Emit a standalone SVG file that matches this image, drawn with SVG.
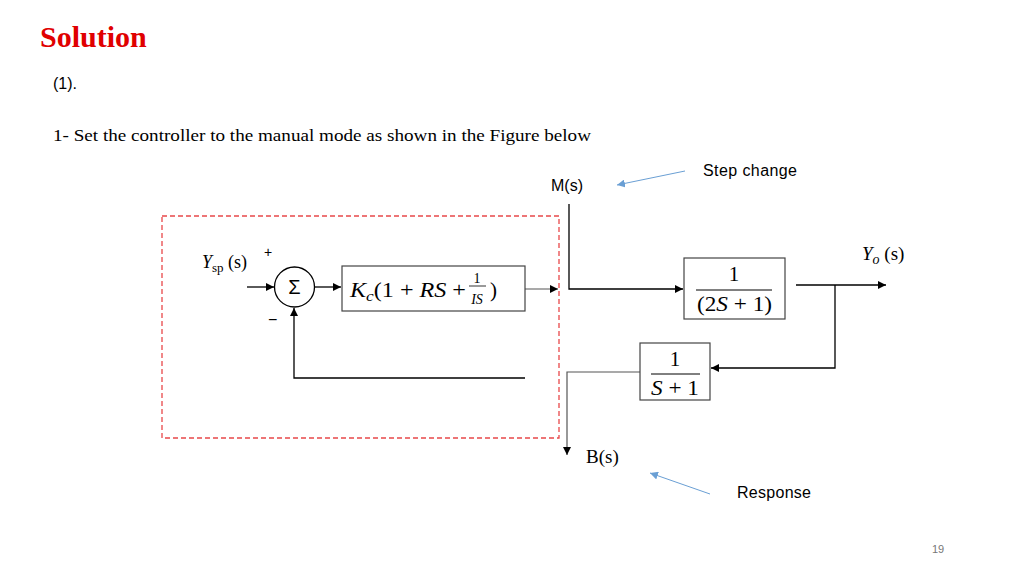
<svg xmlns="http://www.w3.org/2000/svg" width="1024" height="576" viewBox="0 0 1024 576">
<style>
.ln{stroke:#000;stroke-width:1.3;fill:none}
.gl{stroke:#555;stroke-width:1.2;fill:none}
.bx{fill:#fff;stroke:#444;stroke-width:1.2}
.sans{font-family:"Liberation Sans","DejaVu Sans",sans-serif;fill:#000}
.ser{font-family:"Liberation Serif","DejaVu Serif",serif;fill:#000}
.mi{font-family:"Liberation Serif","DejaVu Serif",serif;font-style:italic;fill:#000}
.blue{stroke:#6a9fd4;stroke-width:1;fill:none}
</style>
<defs>
<marker id="ah" viewBox="0 0 10 10" refX="10" refY="5" markerWidth="8" markerHeight="8" markerUnits="userSpaceOnUse" orient="auto"><path d="M0,0 L10,5 L0,10 z" fill="#000"/></marker>
<marker id="bh" viewBox="0 0 10 10" refX="10" refY="5" markerWidth="8" markerHeight="8" markerUnits="userSpaceOnUse" orient="auto"><path d="M0,0 L10,5 L0,10 z" fill="#6a9fd4"/></marker>
</defs>
<rect width="1024" height="576" fill="#fff"/>
<text x="40" y="47" font-family="Liberation Serif,serif" font-weight="bold" font-size="30" fill="#e00000">Solution</text>
<text class="sans" x="53" y="89" font-size="16">(1).</text>
<text class="ser" x="53" y="141" font-size="17" textLength="538" lengthAdjust="spacingAndGlyphs">1- Set the controller to the manual mode as shown in the Figure below</text>

<rect id="manual-box" x="162" y="216" width="397" height="222" fill="none" stroke="#e8484a" stroke-width="1.3" stroke-dasharray="5,3"/>

<g id="connectors">
<path class="ln" d="M247,287 H274" marker-end="url(#ah)"/>
<path class="ln" d="M315,287 H341" marker-end="url(#ah)"/>
<path class="gl" d="M525,289 H558" marker-end="url(#ah)"/>
<path class="ln" d="M525,378 H294 V308" marker-end="url(#ah)"/>
<path class="ln" d="M569,204 V289 H683" marker-end="url(#ah)"/>
<path class="ln" d="M796,285 H886" marker-end="url(#ah)"/>
<path class="ln" d="M835,285 V368 H711" marker-end="url(#ah)"/>
<path class="gl" d="M640,372 H567 V455" marker-end="url(#ah)"/>
<path class="blue" d="M685,171 L617,185" marker-end="url(#bh)"/>
<path class="blue" d="M710,494 L650,473" marker-end="url(#bh)"/>
</g>

<g id="ysp">
<text x="202" y="268" font-size="18"><tspan class="mi">Y</tspan><tspan class="ser" font-size="13" dy="4">sp</tspan><tspan class="ser" dy="-4"> (s)</tspan></text>
</g>
<text class="sans" x="264" y="257" font-size="14">+</text>
<text class="sans" x="268" y="325" font-size="16">−</text>

<g id="sum">
<circle cx="294.5" cy="287" r="20" fill="#fff" stroke="#000" stroke-width="1.3"/>
<text class="sans" x="294.5" y="294" font-size="20" text-anchor="middle">Σ</text>
</g>

<g id="controller">
<rect class="bx" x="342" y="266" width="183" height="45"/>
<text x="350" y="297" font-size="21" textLength="116" lengthAdjust="spacingAndGlyphs"><tspan class="mi">K</tspan><tspan class="mi" font-size="15" dy="4">c</tspan><tspan class="ser" dy="-4">(1 + </tspan><tspan class="mi">RS</tspan><tspan class="ser"> +</tspan></text>
<text class="ser" x="477" y="283" font-size="14" text-anchor="middle">1</text>
<line x1="469" y1="286" x2="486" y2="286" stroke="#000" stroke-width="0.8"/>
<text class="mi" x="477" y="304" font-size="14" text-anchor="middle">IS</text>
<text class="ser" x="490" y="297" font-size="21">)</text>
</g>

<g id="ms-label"><text class="sans" x="551" y="191" font-size="16">M(s)</text></g>
<g id="step-label"><text class="sans" x="703" y="176" font-size="16" textLength="94">Step change</text></g>

<g id="process">
<rect class="bx" x="684" y="258" width="101" height="61"/>
<text class="ser" x="734" y="281" font-size="21" text-anchor="middle">1</text>
<line x1="696" y1="290" x2="772" y2="290" stroke="#000" stroke-width="1"/>
<text x="697" y="311" font-size="21" textLength="75" lengthAdjust="spacingAndGlyphs"><tspan class="ser">(2</tspan><tspan class="mi">S</tspan><tspan class="ser"> + 1)</tspan></text>
</g>

<g id="yo"><text x="862" y="260" font-size="19"><tspan class="mi">Y</tspan><tspan class="mi" font-size="14" dy="4">o</tspan><tspan class="ser" dy="-4"> (s)</tspan></text></g>

<g id="sensor">
<rect class="bx" x="640" y="343" width="70" height="57"/>
<text class="ser" x="675" y="366" font-size="21" text-anchor="middle">1</text>
<line x1="651" y1="374" x2="700" y2="374" stroke="#000" stroke-width="1"/>
<text x="651" y="395" font-size="21" textLength="48" lengthAdjust="spacingAndGlyphs"><tspan class="mi">S</tspan><tspan class="ser"> + 1</tspan></text>
</g>

<g id="bs-label"><text class="ser" x="586" y="463" font-size="19">B(s)</text></g>
<g id="response-label"><text class="sans" x="737" y="498" font-size="16" textLength="74">Response</text></g>
<text class="sans" x="932" y="553" font-size="11" style="fill:#777">19</text>
</svg>
